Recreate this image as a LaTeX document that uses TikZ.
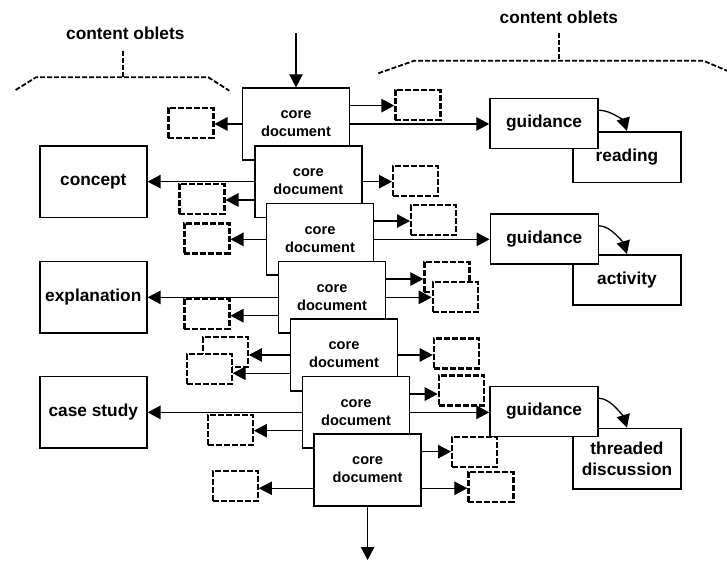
\documentclass[tikz,border=0pt]{standalone}
\usepackage{fontspec}
\setmainfont{Liberation Sans}
\usetikzlibrary{arrows.meta,calc}
\begin{document}
\begin{tikzpicture}[x=1pt,y=1pt,
  core/.style={draw, line width=1.6pt, fill=white, minimum width=107pt, minimum height=71.7pt,
    inner sep=0pt, align=center, anchor=north west, font=\fontsize{14.6}{18}\selectfont\bfseries},
  big/.style={draw, line width=1.6pt, fill=white, minimum width=107pt, minimum height=71.7pt,
    inner sep=0pt, align=center, anchor=north west, font=\fontsize{17.3}{21}\selectfont\bfseries},
  guid/.style={draw, line width=1.6pt, fill=white, minimum width=108pt, minimum height=50pt,
    inner sep=0pt, align=center, anchor=north west, font=\fontsize{17.3}{21}\selectfont\bfseries},
  sub/.style={draw, line width=1.6pt, fill=white, minimum width=107.7pt,
    inner sep=0pt, align=center, anchor=north west, font=\fontsize{17.3}{21}\selectfont\bfseries},
  oblet/.style={draw, dash pattern=on 6pt off 2pt, line width=2.2pt, fill=white,
    minimum width=45pt, minimum height=30pt, inner sep=0pt, anchor=north west},
  arr/.style={line width=1.3pt, -{Triangle[length=13pt,width=13.5pt]}},
  bracket/.style={line width=1.8pt, dash pattern=on 5pt off 2pt},
  lbl/.style={font=\fontsize{17.3}{21}\selectfont\bfseries, inner sep=0pt}
]
\fill[white] (0,0) rectangle (727,-561);
\useasboundingbox (0,0) rectangle (727,-561);

% labels and brackets
\node[lbl] (lo) at (125.3,-33.3) {content oblets};
\node[lbl] (ro) at (558.8,-17.3) {content oblets};
\draw[bracket] (15.7,-90) -- (36,-77.3) -- (208.3,-77.3) -- (229.3,-90.7);
\draw[bracket] (122.7,-50.7) -- (122.7,-77.3);
\draw[bracket] (378.3,-73.3) -- (414.3,-60.7) -- (703.3,-60.7) -- (730,-72);
\draw[bracket] (559.3,-33.3) -- (559.3,-60.7);

% core documents
\node[core] (c1) at (241.7,-87.3) {core\\document};
\node[core] (c2) at (254,-145) {core\\document};
\node[core] (c3) at (265.7,-202.7) {core\\document};
\node[core] (c4) at (277.7,-260.7) {core\\document};
\node[core] (c5) at (289.7,-318.3) {core\\document};
\node[core] (c6) at (301.7,-375.7) {core\\document};
\node[core] (c7) at (313.3,-433.3) {core\\document};
\foreach \i in {1,...,7} {
  \coordinate (c\i-ru) at ($(c\i.north east)!0.25!(c\i.south east)$);
  \coordinate (c\i-rl) at ($(c\i.north east)!0.75!(c\i.south east)$);
  \coordinate (c\i-ll) at ($(c\i.north west)!0.75!(c\i.south west)$);
}

% left content boxes
\node[big] (concept) at (39,-145) {concept};
\node[big] (expl) at (39,-260.7) {explanation};
\node[big] (case) at (39,-375.7) {case study};

% sub boxes and guidance
\node[sub, minimum height=50.7pt] (r1) at (572.3,-131) {reading};
\node[sub, minimum height=50pt] (r2) at (572.3,-254) {activity};
\node[sub, minimum height=60.6pt] (r3) at (572.3,-427.7) {threaded\\discussion};
\node[guid] (g1) at (489.3,-97.7) {guidance};
\node[guid] (g2) at (489.5,-213.3) {guidance};
\node[guid] (g3) at (489.3,-385.7) {guidance};

% dashed oblets
\node[oblet] (d1l) at (167.3,-106.7) {};
\node[oblet] (d1r) at (394.3,-89) {};
\node[oblet] (d2l) at (178.3,-182.7) {};
\node[oblet] (d2r) at (392,-165) {};
\node[oblet] (d3l) at (183.3,-222.3) {};
\node[oblet] (d3r) at (410,-204) {};
\node[oblet] (d4l) at (183.3,-297.5) {};
\node[oblet] (d4ra) at (423.3,-261) {};
\node[oblet] (d4rb) at (431.7,-281) {};
\node[oblet] (d5la) at (201.7,-336) {};
\node[oblet] (d5lb) at (185.5,-352.7) {};
\node[oblet] (d5r) at (432.7,-337.3) {};
\node[oblet] (d6l) at (206.7,-414) {};
\node[oblet] (d6r) at (437.7,-374.3) {};
\node[oblet] (d7l) at (211.7,-470) {};
\node[oblet] (d7ra) at (451,-436) {};
\node[oblet] (d7rb) at (467.3,-471) {};

% flow in and out
\coordinate (fin) at (c1.north |- 0,-33.3);
\coordinate (fout) at (c7.south |- 0,-560);
\draw[arr] (fin) -- (c1.north);
\draw[arr] (c7.south) -- (fout);

% connectors
\draw[arr] (c1.west) -- (c1.west -| d1l.east);
\draw[arr] (c1-ru) -- (c1-ru -| d1r.west);
\draw[arr] (c1.east) -- (c1.east -| g1.west);
\draw[arr] (c2.west) -- (c2.west -| concept.east);
\draw[arr] (c2-ll) -- (c2-ll -| d2l.east);
\draw[arr] (c2.east) -- (c2.east -| d2r.west);
\draw[arr] (c3-ru) -- (c3-ru -| d3r.west);
\draw[arr] (c3.east) -- (c3.east -| g2.west);
\draw[arr] (c3.west) -- (c3.west -| d3l.east);
\draw[arr] (c4.west) -- (c4.west -| expl.east);
\draw[arr] (c4-ll) -- (c4-ll -| d4l.east);
\draw[arr] (c4-ru) -- (c4-ru -| d4ra.west);
\draw[arr] (c4.east) -- (c4.east -| d4rb.west);
\draw[arr] (c5.west) -- (c5.west -| d5la.east);
\draw[arr] (c5-ll) -- (c5-ll -| d5lb.east);
\draw[arr] (c5.east) -- (c5.east -| d5r.west);
\draw[arr] (c6.west) -- (c6.west -| case.east);
\draw[arr] (c6-ll) -- (c6-ll -| d6l.east);
\draw[arr] (c6-ru) -- (c6-ru -| d6r.west);
\draw[arr] (c6.east) -- (c6.east -| g3.west);
\draw[arr] (c7-ll) -- (c7-ll -| d7l.east);
\draw[arr] (c7-ru) -- (c7-ru -| d7ra.west);
\draw[arr] (c7-rl) -- (c7-rl -| d7rb.west);

% guidance to activities
\draw[arr] ([yshift=-12.5pt]g1.north east) .. controls +(12.7,0) and +(-2.7,9) .. (r1.north);
\draw[arr] ([yshift=-12.5pt]g2.north east) .. controls +(12.7,0) and +(-2.7,9) .. (r2.north);
\draw[arr] ([yshift=-12.5pt]g3.north east) .. controls +(12.7,0) and +(-2.7,9) .. (r3.north);
\end{tikzpicture}
\end{document}
